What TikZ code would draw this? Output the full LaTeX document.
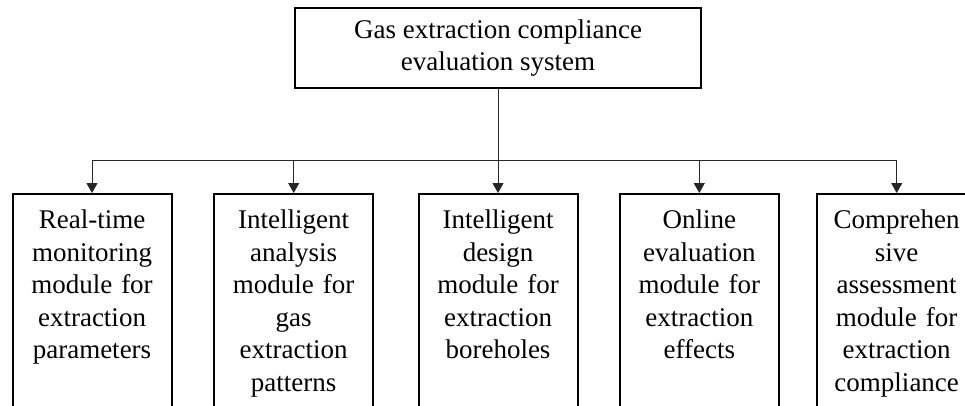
\documentclass[tikz,border=0pt]{standalone}
\usepackage{fontspec}
\setmainfont{Liberation Serif}
\usetikzlibrary{positioning}
\usetikzlibrary{arrows.meta}

\begin{document}
\begin{tikzpicture}[
  x=1pt, y=1pt,
  font=\fontsize{27}{32.5}\selectfont,
  sysbox/.style={draw, line width=2pt, minimum width=406pt, minimum height=80pt, align=center, inner sep=0pt},
  modbox/.style={draw, line width=2pt, minimum width=159pt, minimum height=240pt, anchor=north, inner sep=0pt},
  modtext/.style={anchor=north, text width=156pt, align=center, inner sep=0pt},
  link/.style={line width=1pt, black!85},
  feed/.style={link, -{Triangle[length=10pt, width=11pt]}}
]

% Canvas (the module boxes run past the lower edge)
\useasboundingbox (0,0) rectangle (965,-405);
\clip (0,0) rectangle (965,-405);

% Top level
\node[sysbox] (sys) at (498,-48) {Gas extraction compliance\\evaluation system};

% Module boxes
\node[modbox] (m1) at (92,-193) {};
\node[modbox] (m2) at (293.7,-193) {};
\node[modbox] (m3) at (498,-193) {};
\node[modbox] (m4) at (699.3,-193) {};
\node[modbox] (m5) at (896.7,-193) {};

% Module texts
\node[modtext, below=17pt of m1.north] (t1) {Real-time\\monitoring\\module for\\extraction\\parameters};
\node[modtext, below=17pt of m2.north] (t2) {Intelligent\\analysis\\module for\\gas\\extraction\\patterns};
\node[modtext, below=17pt of m3.north] (t3) {Intelligent\\design\\module for\\extraction\\boreholes};
\node[modtext, below=17pt of m4.north] (t4) {Online\\evaluation\\module for\\extraction\\effects};
\node[modtext, below=17pt of m5.north] (t5) {Comprehen\\sive\\assessment\\module for\\extraction\\compliance};

% Connectors
\coordinate (hub) at ([yshift=-71pt]sys.south);
\draw[link] (sys.south) -- (hub);
\draw[link] (hub -| m1.north) -- (hub -| m5.north);
\draw[feed] (hub -| m1.north) -- (m1.north);
\draw[feed] (hub -| m2.north) -- (m2.north);
\draw[feed] (hub -| m3.north) -- (m3.north);
\draw[feed] (hub -| m4.north) -- (m4.north);
\draw[feed] (hub -| m5.north) -- (m5.north);

\end{tikzpicture}
\end{document}
